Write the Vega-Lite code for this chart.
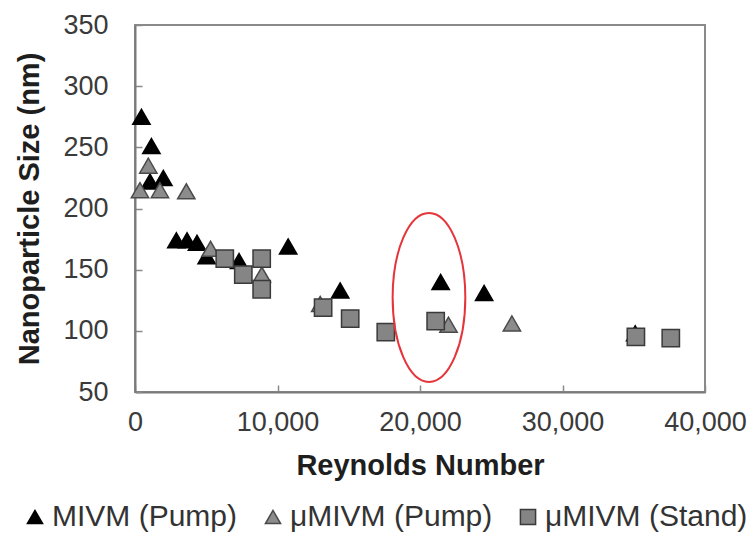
{
  "$schema": "https://vega.github.io/schema/vega-lite/v6.json",
  "autosize": "none",
  "width": 570,
  "height": 367,
  "padding": {"left": 135, "top": 25, "right": 50, "bottom": 150},
  "background": "white",
  "config": {
    "font": "Liberation Sans",
    "view": {"stroke": "#8a8a8a", "strokeWidth": 2},
    "axis": {
      "grid": false,
      "domainColor": "#7a7a7a",
      "domainWidth": 2,
      "tickColor": "#8a8a8a",
      "tickWidth": 1.5,
      "tickSize": -7,
      "labelFont": "Liberation Sans",
      "labelFontSize": 27,
      "labelColor": "#3a3a3a",
      "titleFont": "Liberation Sans",
      "titleFontSize": 29,
      "titleFontWeight": "bold",
      "titleColor": "#1e1e1e"
    }
  },
  "datasets": {
    "points": [
      {"series": "MIVM (Pump)", "re": 450, "size": 275},
      {"series": "MIVM (Pump)", "re": 1150, "size": 251},
      {"series": "MIVM (Pump)", "re": 1050, "size": 222},
      {"series": "MIVM (Pump)", "re": 1990, "size": 225},
      {"series": "MIVM (Pump)", "re": 2900, "size": 174},
      {"series": "MIVM (Pump)", "re": 3650, "size": 174},
      {"series": "MIVM (Pump)", "re": 4350, "size": 172},
      {"series": "MIVM (Pump)", "re": 5030, "size": 161},
      {"series": "MIVM (Pump)", "re": 7300, "size": 157},
      {"series": "MIVM (Pump)", "re": 10750, "size": 169},
      {"series": "MIVM (Pump)", "re": 14400, "size": 133},
      {"series": "MIVM (Pump)", "re": 21450, "size": 140},
      {"series": "MIVM (Pump)", "re": 24500, "size": 131},
      {"series": "MIVM (Pump)", "re": 35100, "size": 98},
      {"series": "μMIVM (Pump)", "re": 350, "size": 215},
      {"series": "μMIVM (Pump)", "re": 935, "size": 235},
      {"series": "μMIVM (Pump)", "re": 1750, "size": 215},
      {"series": "μMIVM (Pump)", "re": 3600, "size": 214},
      {"series": "μMIVM (Pump)", "re": 5300, "size": 167},
      {"series": "μMIVM (Pump)", "re": 8900, "size": 146},
      {"series": "μMIVM (Pump)", "re": 13000, "size": 122},
      {"series": "μMIVM (Pump)", "re": 22000, "size": 105},
      {"series": "μMIVM (Pump)", "re": 26450, "size": 106},
      {"series": "μMIVM (Stand)", "re": 6300, "size": 159},
      {"series": "μMIVM (Stand)", "re": 7600, "size": 146},
      {"series": "μMIVM (Stand)", "re": 8890, "size": 159},
      {"series": "μMIVM (Stand)", "re": 8890, "size": 134},
      {"series": "μMIVM (Stand)", "re": 13200, "size": 119},
      {"series": "μMIVM (Stand)", "re": 15100, "size": 110},
      {"series": "μMIVM (Stand)", "re": 17600, "size": 99},
      {"series": "μMIVM (Stand)", "re": 21100, "size": 108},
      {"series": "μMIVM (Stand)", "re": 35150, "size": 95},
      {"series": "μMIVM (Stand)", "re": 37600, "size": 94}
    ],
    "highlight": [
      {"re": 20630, "size": 127.3}
    ]
  },
  "layer": [
    {
      "data": {"name": "points"},
      "mark": {"type": "point", "filled": true, "strokeWidth": 1.5, "opacity": 1},
      "encoding": {
        "x": {
          "field": "re", "type": "quantitative",
          "scale": {"domain": [0, 40000], "nice": false, "zero": false},
          "axis": {
            "values": [0, 10000, 20000, 30000, 40000],
            "format": ",.0f",
            "labelFlush": false,
            "labelPadding": 24,
            "title": "Reynolds Number",
            "titlePadding": 16
          }
        },
        "y": {
          "field": "size", "type": "quantitative",
          "scale": {"domain": [50, 350], "nice": false, "zero": false},
          "axis": {
            "values": [50, 100, 150, 200, 250, 300, 350],
            "labelFlush": false,
            "labelPadding": 34,
            "title": "Nanoparticle Size (nm)",
            "titlePadding": 18
          }
        },
        "shape": {
          "field": "series", "type": "nominal",
          "scale": {
            "domain": ["MIVM (Pump)", "μMIVM (Pump)", "μMIVM (Stand)"],
            "range": ["triangle-up", "triangle-up", "square"]
          },
          "legend": {
            "title": null,
            "orient": "none",
            "legendX": -115,
            "legendY": 477,
            "direction": "horizontal",
            "columns": 3,
            "columnPadding": 20,
            "labelFontSize": 30,
            "labelFont": "Liberation Sans",
            "labelColor": "#333333",
            "labelOffset": 2,
            "labelLimit": 400,
            "symbolSize": 230,
            "symbolStrokeWidth": 1.5,
            "padding": 0
          }
        },
        "color": {
          "field": "series", "type": "nominal",
          "scale": {
            "domain": ["MIVM (Pump)", "μMIVM (Pump)", "μMIVM (Stand)"],
            "range": ["#000000", "#8c8c8c", "#858585"]
          }
        },
        "stroke": {
          "field": "series", "type": "nominal",
          "scale": {
            "domain": ["MIVM (Pump)", "μMIVM (Pump)", "μMIVM (Stand)"],
            "range": ["#000000", "#4a4a4a", "#3a3a3a"]
          }
        },
        "size": {"value": 300}
      }
    },
    {
      "data": {"name": "highlight"},
      "mark": {
        "type": "point",
        "shape": "M -0.43 0 A 0.43 1 0 1 1 0.43 0 A 0.43 1 0 1 1 -0.43 0 Z",
        "filled": false,
        "fill": null,
        "stroke": "#e5343a",
        "strokeWidth": 2,
        "size": 28561,
        "opacity": 1
      },
      "encoding": {
        "x": {"field": "re", "type": "quantitative"},
        "y": {"field": "size", "type": "quantitative"}
      }
    }
  ]
}
